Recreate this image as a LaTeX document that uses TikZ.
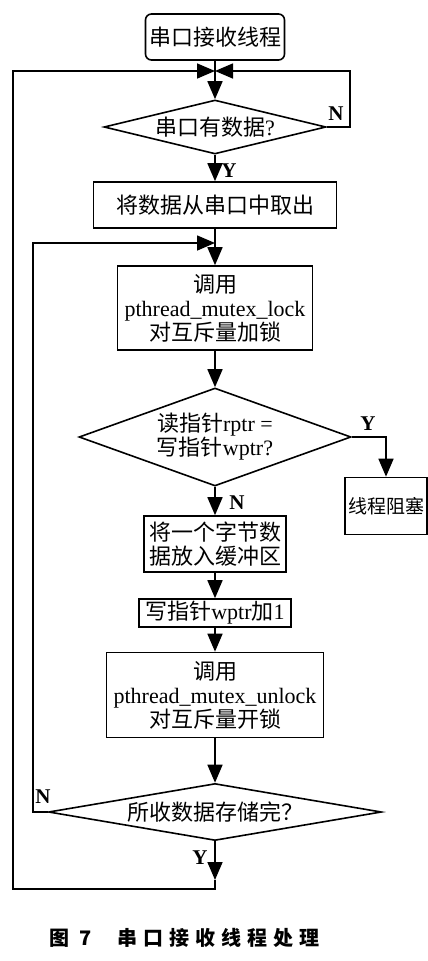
\documentclass[tikz,border=0pt]{standalone}
\usepackage{fontspec}
\setmainfont{Liberation Serif}
\newfontfamily\cjk{Noto Sans CJK SC}
\newfontfamily\capfont[LetterSpace=30]{Noto Sans CJK SC}
\usetikzlibrary{shapes.geometric,arrows.meta}

\tikzset{
  proc/.style={draw, line width=1.6pt, inner sep=2pt, align=center,
    font=\fontsize{22}{24}\selectfont\cjk},
  dec/.style={draw, diamond, line width=1.6pt, inner sep=0pt, align=center,
    font=\fontsize{22}{24}\selectfont\cjk},
  arr/.style={-{Triangle[length=18pt,width=15pt]}, line width=1.6pt},
  yn/.style={font=\fontsize{21}{21}\selectfont\bfseries},
}

\begin{document}
\begin{tikzpicture}[x=1pt, y=-1pt, line width=1.6pt]
  \useasboundingbox (0,0) rectangle (428,961);

  % start and first test
  \node[proc, rounded corners=6pt, minimum width=139pt, minimum height=46pt] (start) at (215,37) {串口接收线程};
  \coordinate (merge) at (215,71);
  \node[dec, minimum width=222pt, minimum height=54pt, aspect=4.1] (d1) at (215,127) {串口有数据{\rmfamily ?}};
  \coordinate (nloop) at (350,71);
  \node[yn] (n1) at (336,114) {N};
  \node[yn] (y1) at (229,171) {Y};

  % read out and lock
  \node[proc, minimum width=243pt, minimum height=46pt] (b2) at (215,205) {将数据从串口中取出};
  \coordinate (imerge) at (215,243);
  \node[proc, minimum width=195pt, minimum height=84pt] (b3) at (215,308) {调用\\{\rmfamily pthread\_mutex\_lock}\\对互斥量加锁};

  % pointer test
  \node[dec, minimum width=272pt, minimum height=98pt, aspect=2.8] (d2) at (215,437) {读指针{\rmfamily rptr =}\\写指针{\rmfamily wptr?}};
  \node[proc, minimum height=57pt, inner sep=3pt, font=\fontsize{19}{21}\selectfont\cjk] (blk) at (386,506) {线程阻塞};
  \node[yn] (y2) at (368,424) {Y};
  \node[yn] (n2) at (237,503) {N};

  % write and unlock
  \node[proc, minimum width=142pt, minimum height=56pt] (b4) at (215,544) {将一个字节数\\据放入缓冲区};
  \node[proc, minimum width=152pt, minimum height=28pt, inner sep=1pt] (b5) at (215,613) {写指针{\rmfamily wptr}加{\rmfamily 1}};
  \node[proc, minimum width=217pt, minimum height=85pt] (b6) at (215,695) {调用\\{\rmfamily pthread\_mutex\_unlock}\\对互斥量开锁};

  % last test
  \node[dec, minimum width=333pt, minimum height=57pt, aspect=5.8] (d3) at (215,812) {所收数据存储完？};
  \node[yn] (n3) at (43,797) {N};
  \node[yn] (y3) at (200,858) {Y};
  \coordinate (ilt) at (33,243);
  \coordinate (ytip) at (215,880);
  \coordinate (bot) at (215,889);
  \coordinate (olt) at (13,71);

  % caption
  \node[font=\fontsize{20}{20}\selectfont\capfont\bfseries, anchor=west] (cap) at (45,938) {图\hspace{10pt}7\hspace{26pt}串口接收线程处理};

  % connectors
  \draw[arr] (start) -- (d1);
  \draw[arr] (d1.east) -| (nloop) -- (merge);
  \draw[arr] (d1) -- (b2);
  \draw[arr] (b2) -- (b3);
  \draw[arr] (b3) -- (d2);
  \draw[arr] (d2.east) -| (blk.north);
  \draw[arr] (d2) -- (b4);
  \draw[arr] (b4) -- (b5);
  \draw[arr] (b5) -- (b6);
  \draw[arr] (b6) -- (d3);
  \draw[arr] (d3.west) -| (ilt) -- (imerge);
  \draw[arr] (d3.south) -- (ytip);
  \draw[arr] (ytip) -- (bot) -| (olt) -- (merge);
\end{tikzpicture}
\end{document}
